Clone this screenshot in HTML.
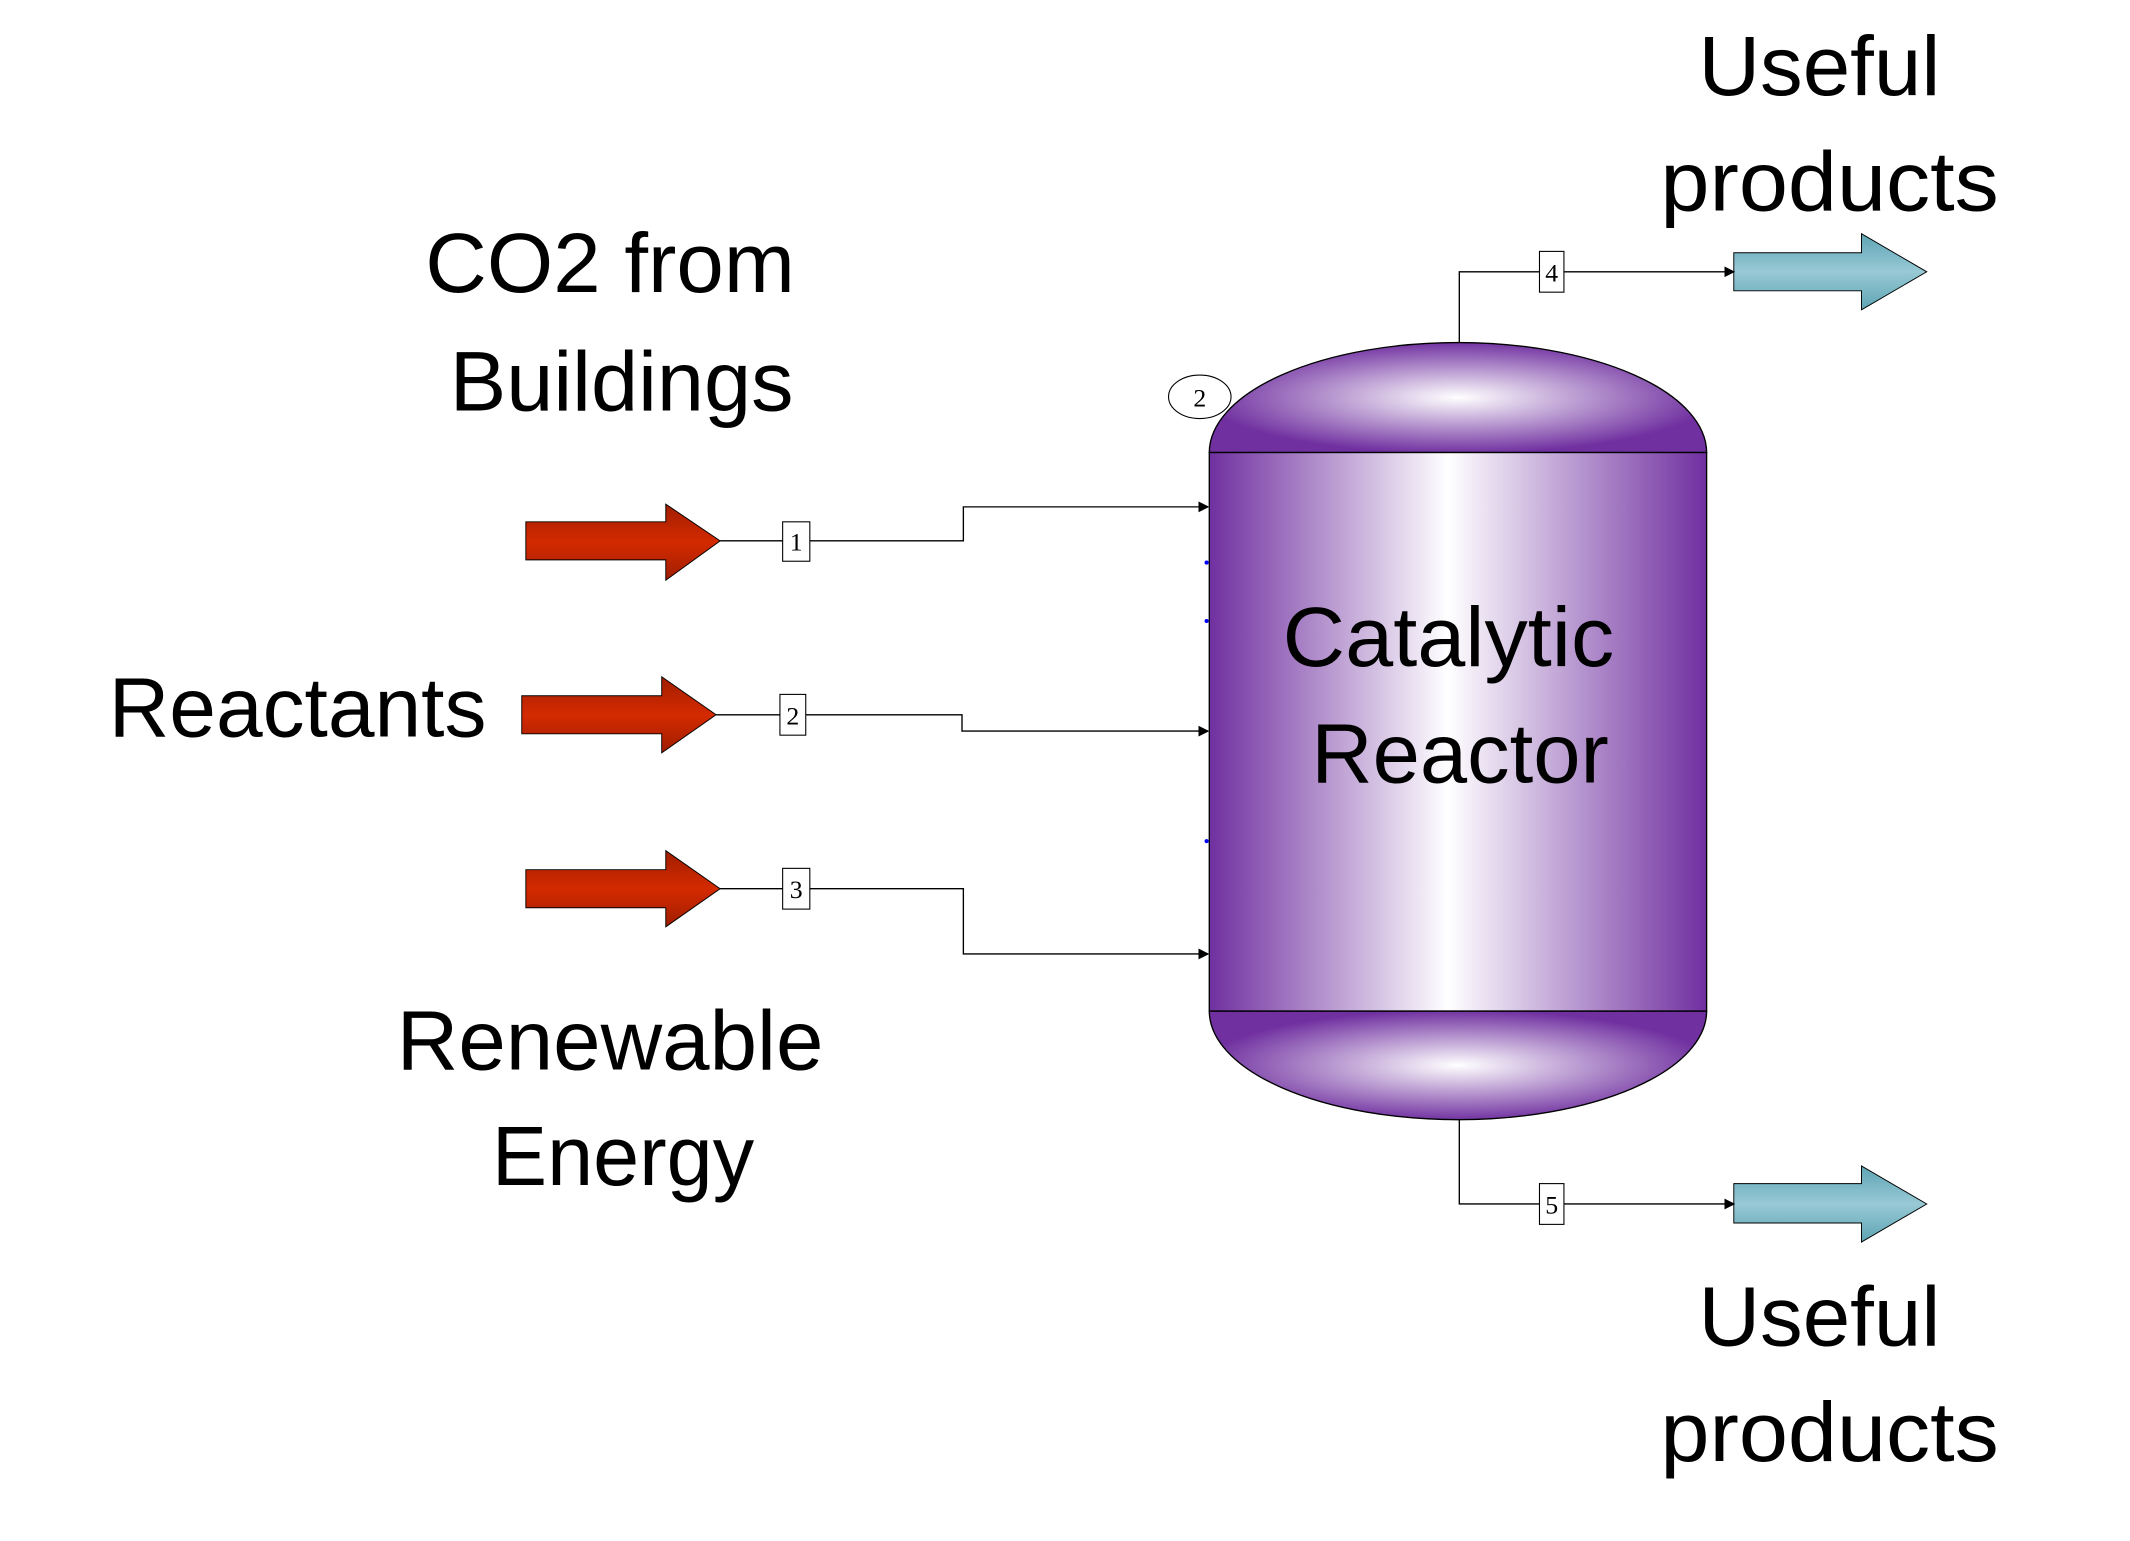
<!DOCTYPE html>
<html><head><meta charset="utf-8"><style>html,body{margin:0;padding:0;background:#fff}svg{display:block}</style></head>
<body>
<svg width="2130" height="1541" viewBox="0 0 1567.6 1134" preserveAspectRatio="none" xmlns="http://www.w3.org/2000/svg" font-family="Liberation Sans, sans-serif">
<defs>
<linearGradient id="body" x1="0" x2="1" y1="0" y2="0">
<stop offset="0" stop-color="#7030a0"/><stop offset="0.48" stop-color="#ffffff"/><stop offset="1" stop-color="#7030a0"/>
</linearGradient>
<radialGradient id="dome1" cx="0.5" cy="0.5" r="0.6" fx="0.5" fy="0.5">
<stop offset="0" stop-color="#ffffff"/><stop offset="0.85" stop-color="#7030a0"/><stop offset="1" stop-color="#7030a0"/>
</radialGradient>
<linearGradient id="red" x1="0" x2="0" y1="0" y2="1">
<stop offset="0" stop-color="#a01e00"/><stop offset="0.5" stop-color="#d42a00"/><stop offset="1" stop-color="#a01e00"/>
</linearGradient>
<linearGradient id="teal" x1="0" x2="0" y1="0" y2="1">
<stop offset="0" stop-color="#5ea4b4"/><stop offset="0.5" stop-color="#98c9d5"/><stop offset="1" stop-color="#5ea4b4"/>
</linearGradient>
<marker id="ah" markerWidth="8" markerHeight="8" refX="7" refY="4" orient="auto" markerUnits="userSpaceOnUse"><path d="M0,0 L8,4 L0,8 Z" fill="#000"/></marker>
</defs>

<path d="M890,333 A183,81 0 0 1 1256,333 Z" fill="url(#dome1)" stroke="#000" stroke-width="1"/>
<path d="M890,744 A183,80 0 0 0 1256,744 Z" fill="url(#dome1)" stroke="#000" stroke-width="1"/>
<rect x="890" y="333" width="366" height="411" fill="url(#body)" stroke="#000" stroke-width="1"/>
<circle cx="888" cy="414" r="1.5" fill="#00f"/><circle cx="888" cy="457" r="1.5" fill="#00f"/><circle cx="888" cy="619" r="1.5" fill="#00f"/>

<path d="M387,384 H490 V371 L530,398 L490,427 V412 H387 Z" fill="url(#red)" stroke="#000" stroke-width="0.7"/>
<path d="M384,512 H487 V498 L527,526 L487,554 V540 H384 Z" fill="url(#red)" stroke="#000" stroke-width="0.7"/>
<path d="M387,640 H490 V626 L530,654 L490,682 V668 H387 Z" fill="url(#red)" stroke="#000" stroke-width="0.7"/>

<path d="M1276,186 H1370 V172 L1418,200 L1370,228 V214 H1276 Z" fill="url(#teal)" stroke="#000" stroke-width="0.7"/>
<path d="M1276,871 H1370 V858 L1418,886 L1370,914 V900 H1276 Z" fill="url(#teal)" stroke="#000" stroke-width="0.7"/>

<g fill="none" stroke="#000" stroke-width="1">
<path d="M530,398 H709 V373 H889" marker-end="url(#ah)"/>
<path d="M527,526 H708 V538 H889" marker-end="url(#ah)"/>
<path d="M530,654 H709 V702 H889" marker-end="url(#ah)"/>
<path d="M1074,252 V200 H1276" marker-end="url(#ah)"/>
<path d="M1074,824 V886 H1276" marker-end="url(#ah)"/>
</g>

<g font-family="Liberation Serif, serif" font-size="19" text-anchor="middle">
<rect x="576" y="384" width="20" height="29" fill="#fff" stroke="#000" stroke-width="0.8"/><text x="586" y="405">1</text>
<rect x="574" y="511" width="19" height="30" fill="#fff" stroke="#000" stroke-width="0.8"/><text x="583.5" y="533">2</text>
<rect x="576" y="639" width="20" height="30" fill="#fff" stroke="#000" stroke-width="0.8"/><text x="586" y="661">3</text>
<rect x="1133" y="185" width="18" height="30" fill="#fff" stroke="#000" stroke-width="0.8"/><text x="1142" y="207">4</text>
<rect x="1133" y="871" width="18" height="30" fill="#fff" stroke="#000" stroke-width="0.8"/><text x="1142" y="893">5</text>
<ellipse cx="883" cy="292" rx="23" ry="16" fill="#fff" stroke="#000" stroke-width="0.8"/><text x="883" y="299">2</text>
</g>

<g font-size="62" fill="#000">
<text x="313" y="215" textLength="272" lengthAdjust="spacingAndGlyphs">CO2 from</text>
<text x="331" y="302" textLength="253" lengthAdjust="spacingAndGlyphs">Buildings</text>
<text x="80" y="542" textLength="278" lengthAdjust="spacingAndGlyphs">Reactants</text>
<text x="292" y="787" textLength="314" lengthAdjust="spacingAndGlyphs">Renewable</text>
<text x="362" y="872" textLength="193" lengthAdjust="spacingAndGlyphs">Energy</text>
<text x="1250" y="70" textLength="178" lengthAdjust="spacingAndGlyphs">Useful</text>
<text x="1222" y="155" textLength="249" lengthAdjust="spacingAndGlyphs">products</text>
<text x="1250" y="990" textLength="178" lengthAdjust="spacingAndGlyphs">Useful</text>
<text x="1222" y="1075" textLength="249" lengthAdjust="spacingAndGlyphs">products</text>
<text x="944" y="490" textLength="244" lengthAdjust="spacingAndGlyphs">Catalytic</text>
<text x="965" y="576" textLength="219" lengthAdjust="spacingAndGlyphs">Reactor</text>
</g>
</svg>
</body></html>
